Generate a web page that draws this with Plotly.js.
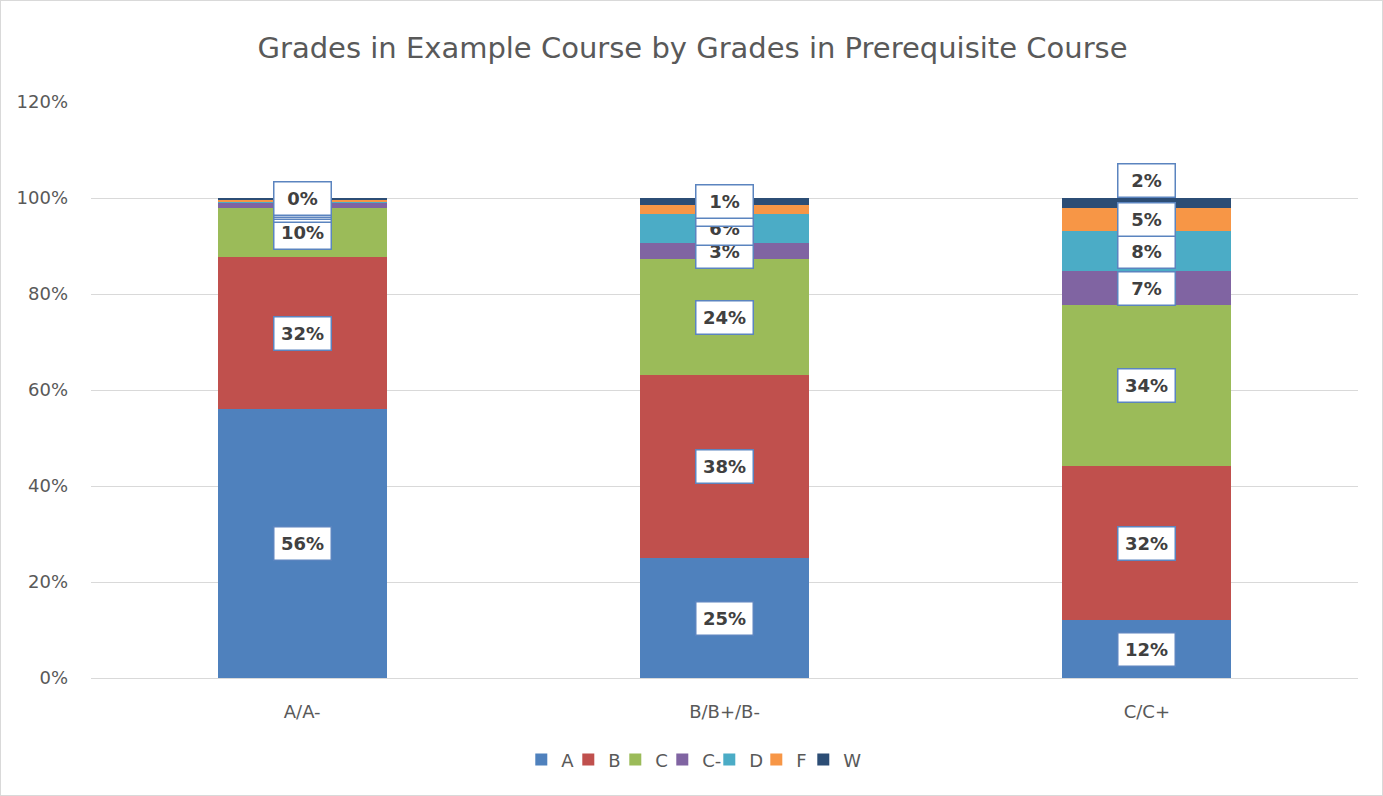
<!DOCTYPE html>
<html>
<head>
<meta charset="utf-8">
<script src="https://cdn.plot.ly/plotly-3.0.1.min.js"></script>
<style>
html,body{margin:0;padding:0;background:#fff;}
#chart{width:1383px;height:796px;box-sizing:border-box;border:1px solid #d9d9d9;}
</style>
</head>
<body>
<div id="chart"></div>
<script>
const categories = ["A/A-", "B/B+/B-", "C/C+"];
const seriesNames = ["A", "B", "C", "C-", "D", "F", "W"];
const gradeA  = [0.560, 0.250, 0.120];
const gradeB  = [0.317, 0.381, 0.321];
const gradeC  = [0.102, 0.242, 0.337];
const gradeCm = [0.011, 0.033, 0.069];
const gradeD  = [0.002, 0.061, 0.084];
const gradeF  = [0.004, 0.019, 0.049];
const gradeW  = [0.004, 0.014, 0.020];
const yTicks = [0, 0.2, 0.4, 0.6, 0.8, 1.0, 1.2];

const seriesValues = [gradeA, gradeB, gradeC, gradeCm, gradeD, gradeF, gradeW];
const colors = ["#4f81bd", "#c0504d", "#9bbb59", "#8064a2", "#4bacc6", "#f79646", "#2c4d75"];
const FONT = "'DejaVu Sans', 'Open Sans', sans-serif";

const traces = seriesNames.map((name, i) => ({
  type: "bar",
  name: name,
  x: categories,
  y: seriesValues[i],
  marker: {color: colors[i]},
  hoverinfo: "skip"
}));
// invisible zero-height spacer so the last legend label is not clipped
traces.push({
  type: "bar", name: " ", x: [categories[0]], y: [0],
  marker: {color: "rgba(0,0,0,0)", line: {width: 0}}, hoverinfo: "skip", showlegend: true
});

const annotations = [];
categories.forEach((cat, c) => {
  let base = 0;
  seriesValues.forEach((vals, s) => {
    const v = vals[c];
    const mid = base + v / 2;
    base += v;
    // Excel moved the top label of the last column above the bar
    const shift = (s === seriesValues.length - 1 && c === categories.length - 1) ? 22 : 0;
    annotations.push({
      x: cat, y: mid, xref: "x", yref: "y",
      text: Math.round(v * 100) + "%",
      showarrow: false,
      yshift: shift,
      font: {family: FONT, size: 18, color: "#404040", weight: "bold"},
      bgcolor: "#ffffff",
      bordercolor: "#5b84bf",
      borderwidth: 1.5,
      borderpad: 1,
      width: 54,
      height: 30
    });
  });
});

const layout = {
  width: 1383, height: 796,
  barmode: "stack",
  bargap: 0.6,
  paper_bgcolor: "rgba(0,0,0,0)",
  plot_bgcolor: "#ffffff",
  margin: {l: 90, r: 26, t: 101, b: 119},
  font: {family: FONT, color: "#595959", size: 18},
  title: {
    text: "Grades in Example Course by Grades in Prerequisite Course",
    font: {family: FONT, size: 29, color: "#595959"},
    x: 0.5, xanchor: "center",
    y: 1 - 47 / 796, yanchor: "middle", yref: "container"
  },
  xaxis: {
    type: "category",
    showgrid: false,
    showline: true,
    linecolor: "#d9d9d9",
    linewidth: 1,
    ticks: "",
    tickfont: {family: FONT, size: 18, color: "#595959"},
    ticklabelstandoff: 17
  },
  yaxis: {
    range: [0, 1.2],
    tickvals: yTicks,
    tickformat: ".0%",
    showgrid: true,
    gridcolor: "#d9d9d9",
    gridwidth: 1,
    zeroline: false,
    showline: false,
    ticks: "",
    tickfont: {family: FONT, size: 18, color: "#595959"},
    ticklabelstandoff: 22
  },
  legend: {
    orientation: "h",
    x: 0.488, xanchor: "center",
    y: -0.142, yanchor: "middle",
    font: {family: FONT, size: 18, color: "#595959"},
    traceorder: "normal",
    itemwidth: 30,
    entrywidth: 2,
    entrywidthmode: "pixels"
  },
  showlegend: true,
  annotations: annotations
};

Plotly.newPlot("chart", traces, layout, {displayModeBar: false, staticPlot: true});
</script>
</body>
</html>
